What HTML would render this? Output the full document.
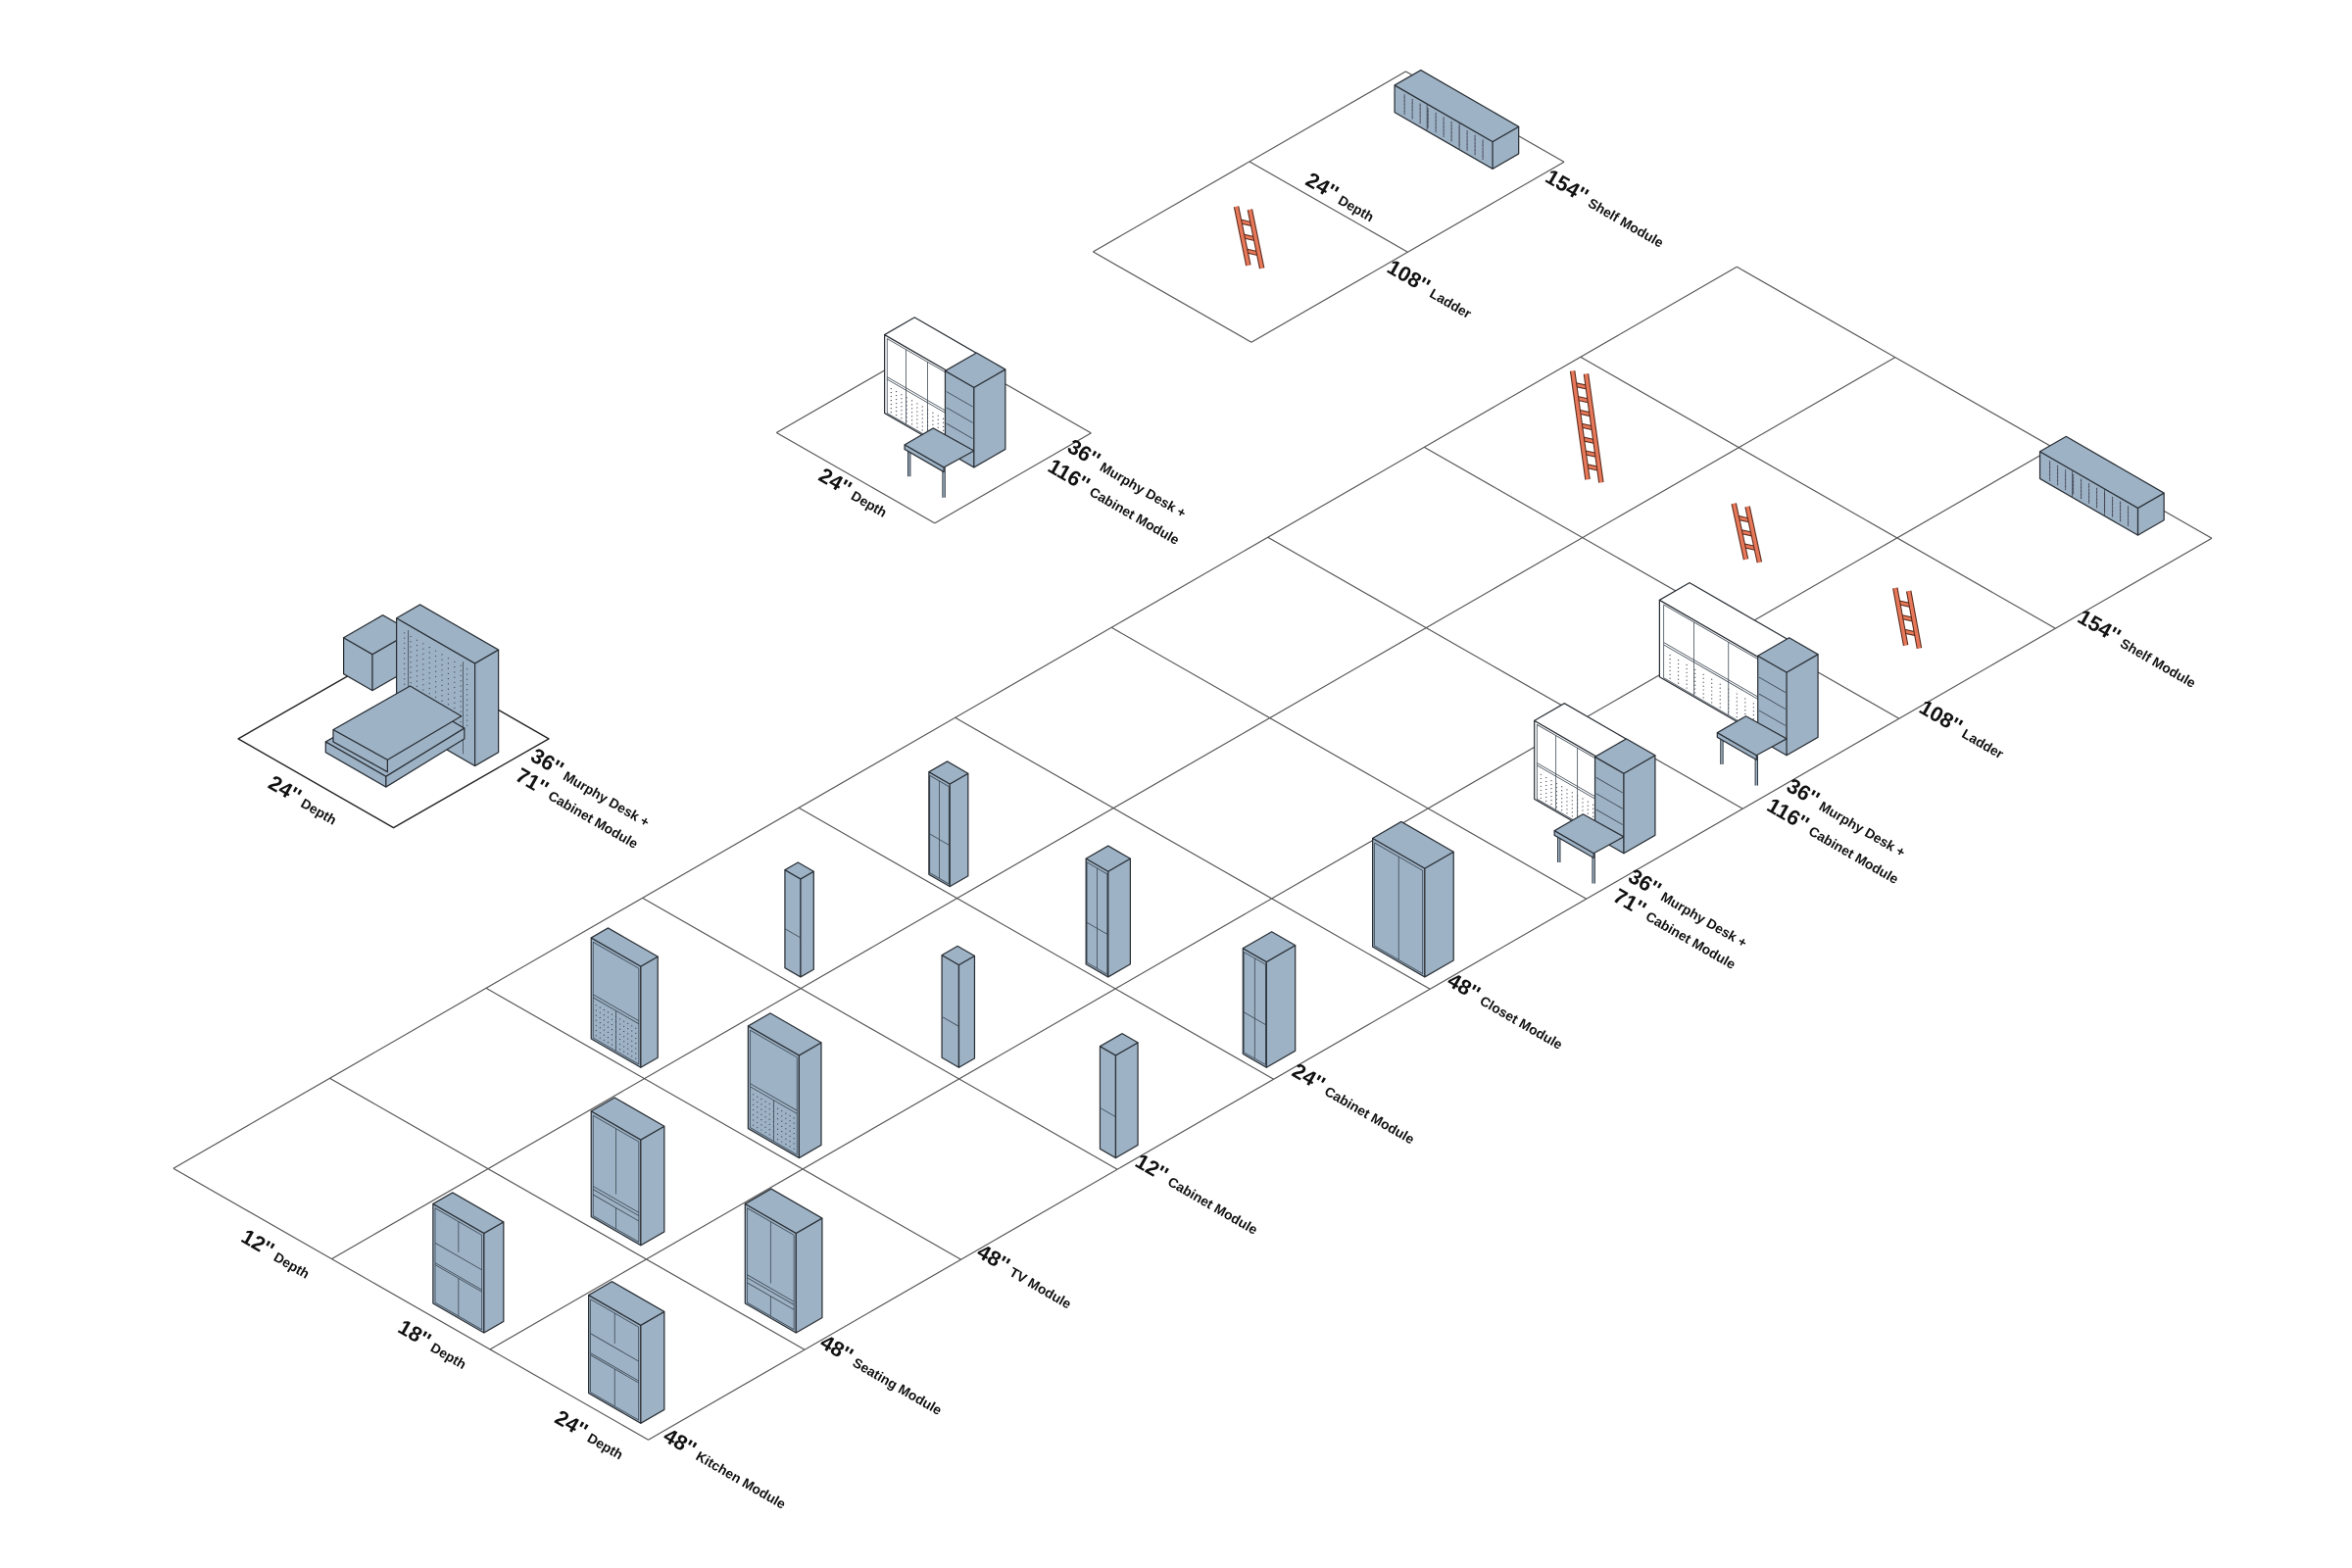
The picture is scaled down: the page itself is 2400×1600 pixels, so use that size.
<!DOCTYPE html>
<html><head><meta charset="utf-8"><style>
html,body{margin:0;padding:0;background:#fff}
svg{display:block}
text{font-family:"Liberation Sans",sans-serif;fill:#111}
.b{font-size:14px;font-weight:bold}
.s{font-size:9px;font-weight:600}
</style></head><body>
<svg id="s" width="2400" height="1600" viewBox="0 0 1560 1040" xmlns="http://www.w3.org/2000/svg">
<g id="grid" stroke="#555" stroke-width="0.75" fill="none"></g>
<g id="objs"></g>
<g id="labels" transform="translate(-1,-6)">
<text transform="translate(160,829) rotate(30)"><tspan class="b">12''</tspan><tspan class="s" dx="3">Depth</tspan></text>
<text transform="translate(264,889) rotate(30)"><tspan class="b">18''</tspan><tspan class="s" dx="3">Depth</tspan></text>
<text transform="translate(368,949) rotate(30)"><tspan class="b">24''</tspan><tspan class="s" dx="3">Depth</tspan></text>
<text transform="translate(440,961) rotate(30)"><tspan class="b">48''</tspan><tspan class="s" dx="3">Kitchen Module</tspan></text>
<text transform="translate(544,899) rotate(30)"><tspan class="b">48''</tspan><tspan class="s" dx="3">Seating Module</tspan></text>
<text transform="translate(648,839) rotate(30)"><tspan class="b">48''</tspan><tspan class="s" dx="3">TV Module</tspan></text>
<text transform="translate(753,779) rotate(30)"><tspan class="b">12''</tspan><tspan class="s" dx="3">Cabinet Module</tspan></text>
<text transform="translate(857,719) rotate(30)"><tspan class="b">24''</tspan><tspan class="s" dx="3">Cabinet Module</tspan></text>
<text transform="translate(960,659) rotate(30)"><tspan class="b">48''</tspan><tspan class="s" dx="3">Closet Module</tspan></text>
<text transform="translate(1080,590) rotate(30)"><tspan class="b">36''</tspan><tspan class="s" dx="3">Murphy Desk +</tspan></text>
<text transform="translate(1070,603) rotate(30)"><tspan class="b">71''</tspan><tspan class="s" dx="3">Cabinet Module</tspan></text>
<text transform="translate(1185,530) rotate(30)"><tspan class="b">36''</tspan><tspan class="s" dx="3">Murphy Desk +</tspan></text>
<text transform="translate(1172,543) rotate(30)"><tspan class="b">116''</tspan><tspan class="s" dx="3">Cabinet Module</tspan></text>
<text transform="translate(1273,478) rotate(30)"><tspan class="b">108''</tspan><tspan class="s" dx="3">Ladder</tspan></text>
<text transform="translate(1378,418) rotate(30)"><tspan class="b">154''</tspan><tspan class="s" dx="3">Shelf Module</tspan></text>
<text transform="translate(178,528) rotate(30)"><tspan class="b">24''</tspan><tspan class="s" dx="3">Depth</tspan></text>
<text transform="translate(352,510) rotate(30)"><tspan class="b">36''</tspan><tspan class="s" dx="3">Murphy Desk +</tspan></text>
<text transform="translate(342,523) rotate(30)"><tspan class="b">71''</tspan><tspan class="s" dx="3">Cabinet Module</tspan></text>
<text transform="translate(543,324) rotate(30)"><tspan class="b">24''</tspan><tspan class="s" dx="3">Depth</tspan></text>
<text transform="translate(708,305) rotate(30)"><tspan class="b">36''</tspan><tspan class="s" dx="3">Murphy Desk +</tspan></text>
<text transform="translate(695,318) rotate(30)"><tspan class="b">116''</tspan><tspan class="s" dx="3">Cabinet Module</tspan></text>
<text transform="translate(866,128) rotate(30)"><tspan class="b">24''</tspan><tspan class="s" dx="3">Depth</tspan></text>
<text transform="translate(920,186) rotate(30)"><tspan class="b">108''</tspan><tspan class="s" dx="3">Ladder</tspan></text>
<text transform="translate(1025,126) rotate(30)"><tspan class="b">154''</tspan><tspan class="s" dx="3">Shelf Module</tspan></text>
</g>
</svg>
<script>
var NS="http://www.w3.org/2000/svg";
var G=document.getElementById('grid'),O=document.getElementById('objs');
function el(p,t,a){var e=document.createElementNS(NS,t);for(var k in a)e.setAttribute(k,a[k]);p.appendChild(e);return e;}
function ln(p,a,b,st,w){el(p,'line',{x1:a[0],y1:a[1],x2:b[0],y2:b[1],stroke:st||'#555','stroke-width':w||0.75});}
function pts(a){return a.map(function(q){return q[0].toFixed(1)+','+q[1].toFixed(1)}).join(' ');}
function poly(p,a,fill,st,w){el(p,'polygon',{points:pts(a),fill:fill,stroke:st||'#2a2f35','stroke-width':w||0.8,'stroke-linejoin':'round'});}
var LX=103.7,LY=-59.8,SX=105,SY=60;
function gp(ox,oy,i,j){return [ox+LX*i+SX*j, oy+LY*i+SY*j];}
function grid(ox,oy,ni,nj){
 for(var i=0;i<=ni;i++)ln(G,gp(ox,oy,i,0),gp(ox,oy,i,nj));
 for(var j=0;j<=nj;j++)ln(G,gp(ox,oy,0,j),gp(ox,oy,ni,j));
}
grid(115,775,10,3);
grid(725,167,2,1);
grid(515,287,1,1);
poly(G,[[158,490],[261,549],[364,490],[261,431]],'none','#222',0.9);
var C=0.866,BL='#9db2c5';
function box(g,Px,Py,W,D,H,fill,det){
 var P=[Px,Py],L=[Px-W*C,Py-W*.5],R=[Px+D*C,Py-D*.5],B=[L[0]+D*C,L[1]-D*.5];
 function up(q){return [q[0],q[1]-H];}
 poly(g,[L,P,up(P),up(L)],fill);
 poly(g,[P,R,up(R),up(P)],fill);
 poly(g,[up(L),up(P),up(R),up(B)],fill);
 function f(u,v){return [L[0]+u*(P[0]-L[0]),L[1]+u*(P[1]-L[1])-v*H];}
 var dc='#3a4550',dw=0.5;
 if(det){
  if(det.inset){poly(g,[f(.04,.02),f(.96,.02),f(.96,.97),f(.04,.97)],'none',dc,dw);}
  (det.h||[]).forEach(function(v){ln(g,f(.04,v),f(.96,v),dc,dw);});
  (det.vs||[]).forEach(function(s){ln(g,f(s[0],s[1]),f(s[0],s[2]),dc,dw);});
  if(det.dots){for(var u=0.1;u<0.95;u+=0.08)for(var v=det.dots[0];v<det.dots[1];v+=0.05){var q=f(u,v);el(g,'circle',{cx:q[0],cy:q[1],r:0.4,fill:'#445'});}}
 }
}
var kit={inset:1,h:[.62,.42,.4],vs:[[.5,.02,.4],[.5,.66,.97]]};
var seat={inset:1,h:[.3,.27,.22],vs:[[.5,.02,.22],[.5,.35,.97]]};
var tv={inset:1,h:[.45,.42],vs:[[.5,.02,.42]],dots:[.06,.4]};
var tall={inset:1,h:[.4],vs:[[.5,.02,.97]]};
var clo={inset:1,vs:[[.5,.02,.97]]};
box(O,321,884,39,15,66,BL,kit);
box(O,425,944,40,18,65,BL,kit);
box(O,425,826,38,18,70,BL,seat);
box(O,528,884,39,20,66,BL,seat);
box(O,425,708,38,13,67,BL,tv);
box(O,530,768,39,17,68,BL,tv);
box(O,531,648,12,10,65,BL,{h:[.4]});
box(O,636,708,13,12,68,BL,{h:[.4]});
box(O,740,768,12,17,68,BL,{h:[.4]});
box(O,630,588,16,14,68,BL,tall);
box(O,735,648,17,17,70,BL,tall);
box(O,840,708,18,22,70,BL,tall);
box(O,945,648,40,22,72,BL,clo);
function murphy(g,wx,wy,WW,WH,tx,ty,TH){
 box(g,wx,wy,WW,23,WH,'#fff',{inset:1,h:[.45,.48],vs:[[.33,.02,.97],[.66,.02,.97]],dots:[.06,.4]});
 box(g,tx,ty,22,24,TH,BL,{h:[.75,.55,.35]});
 var dx=tx-1185,dy=ty-501;
 function s(q){return [q[0]+dx,q[1]+dy];}
 [[1142,487,1142,507],[1165,501,1165,521],[1158,478,1158,492]].forEach(function(l){ln(g,s([l[0],l[1]]),s([l[2],l[3]]),'#2a2f35',2.2);ln(g,s([l[0],l[1]]),s([l[2],l[3]]),'#9db2c5',1);});
 poly(g,[s([1139,486]),s([1158,475]),s([1185,490]),s([1165,501])],BL);
 poly(g,[s([1139,486]),s([1165,501]),s([1165,504]),s([1139,489])],BL);
}
murphy(O,1170,489,80,51,1185,501,55);
murphy(O,1061,555,50,52,1077,566,53);
var mg=el(O,'g',{transform:'translate(-431,-256)'});
murphy(mg,1061,555,50,52,1077,566,53);
box(O,247,458,22,30,24,BL,{});
box(O,315,508,60,18,68,BL,{dots:[.35,.95],vs:[[.15,.4,.95],[.85,.05,.95]]});
poly(O,[[216,492],[270,461],[308,483],[256,515]],BL);
poly(O,[[216,492],[256,515],[256,522],[216,499]],BL);
poly(O,[[256,515],[308,483],[308,490],[256,522]],BL);
poly(O,[[221,484],[272,455],[306,475],[257,504]],BL);
poly(O,[[221,484],[257,504],[257,512],[221,492]],BL);
function shelf(g,Px,Py){box(g,Px,Py,75,20,18,BL,{vs:[[.33,0,1],[.66,0,1]],dots:[.15,.9]});}
shelf(O,1418,355);
shelf(O,990,112);
function ladder(g,x1,y1,x2,y2,n){
 var w=9,oc='#5a2a1a',fc='#e8785a';
 var A=[x1,y1],B=[x2,y2],A2=[x1+w,y1+2],B2=[x2+w,y2+2];
 for(var k=1;k<=n;k++){var t=k/(n+1);var p=[A[0]+(B[0]-A[0])*t,A[1]+(B[1]-A[1])*t];var q=[A2[0]+(B2[0]-A2[0])*t,A2[1]+(B2[1]-A2[1])*t];ln(g,p,q,oc,3.2);ln(g,p,q,fc,1.8);}
 [[A,B],[A2,B2]].forEach(function(r){ln(g,r[0],r[1],oc,3.6);ln(g,r[0],r[1],fc,2.2);});
}
ladder(O,1043,246,1053,318,7);
ladder(O,1150,334,1158,371,3);
ladder(O,1257,390,1264,428,3);
ladder(O,820,137,828,176,3);
</script>
</body></html>
